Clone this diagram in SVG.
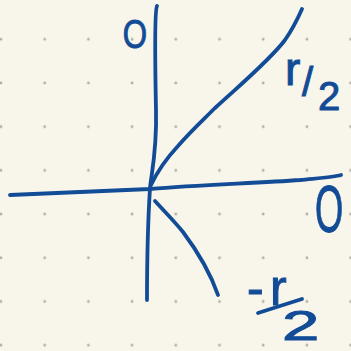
<svg xmlns="http://www.w3.org/2000/svg" width="351" height="351" viewBox="0 0 351 351">
<defs>
<pattern id="dots" x="1" y="39.3" width="43.7" height="43.7" patternUnits="userSpaceOnUse">
<circle cx="0" cy="0" r="1.4" fill="#b3afa3"/>
<circle cx="43.7" cy="0" r="1.4" fill="#b3afa3"/>
<circle cx="0" cy="43.7" r="1.4" fill="#b3afa3"/>
<circle cx="43.7" cy="43.7" r="1.4" fill="#b3afa3"/>
</pattern>
</defs>
<style>
.ink{fill:none;stroke:#124b96;stroke-width:3.8;stroke-linecap:round;stroke-linejoin:round}
.lbl{fill:#124b96;stroke:#124b96;stroke-width:1;font-family:"Liberation Sans",Arial,sans-serif}
</style>
<rect width="351" height="351" fill="#f8f5ea"/>
<rect width="351" height="351" fill="url(#dots)"/>
<g id="connectors">
<path id="vaxis" class="ink" d="M157,6 C155,10 155,60 156,110 C157,150 152,170 150,188 C148,220 147,260 147,300"/>
<path id="haxis" class="ink" d="M10,195 C60,193 110,191 150,189 C200,185 260,183 300,180 C320,178 335,177 341,175"/>
<path id="upper" class="ink" d="M151,185 C158,170 165,160 178,146 C190,132 202,121 215,108 C240,85 270,60 285,40 C292,30 298,18 302,9"/>
<path id="lower" class="ink" d="M155,201 C165,212 175,222 183,232 C198,252 210,272 218,295"/>
</g>
<g id="label-O-top"><text class="lbl" font-size="40" transform="translate(135,48) scale(0.78,1)" text-anchor="middle">O</text></g>
<g id="label-r2"><text class="lbl" font-size="46" x="285" y="85">r</text><text class="lbl" font-size="40" x="302" y="96">/</text><text class="lbl" font-size="40" x="318" y="110">2</text></g>
<g id="label-O-right"><text class="lbl" font-size="66" transform="translate(329,232) scale(0.55,1)" text-anchor="middle">O</text></g>
<g id="label-neg-r2">
<text class="lbl" font-size="50" y="305"><tspan x="247">-</tspan><tspan x="270">r</tspan></text>
<line class="ink" x1="258" y1="313" x2="302" y2="299"/>
<text class="lbl" font-size="42" transform="translate(282,340) scale(1.6,1)">2</text>
</g>
</svg>
